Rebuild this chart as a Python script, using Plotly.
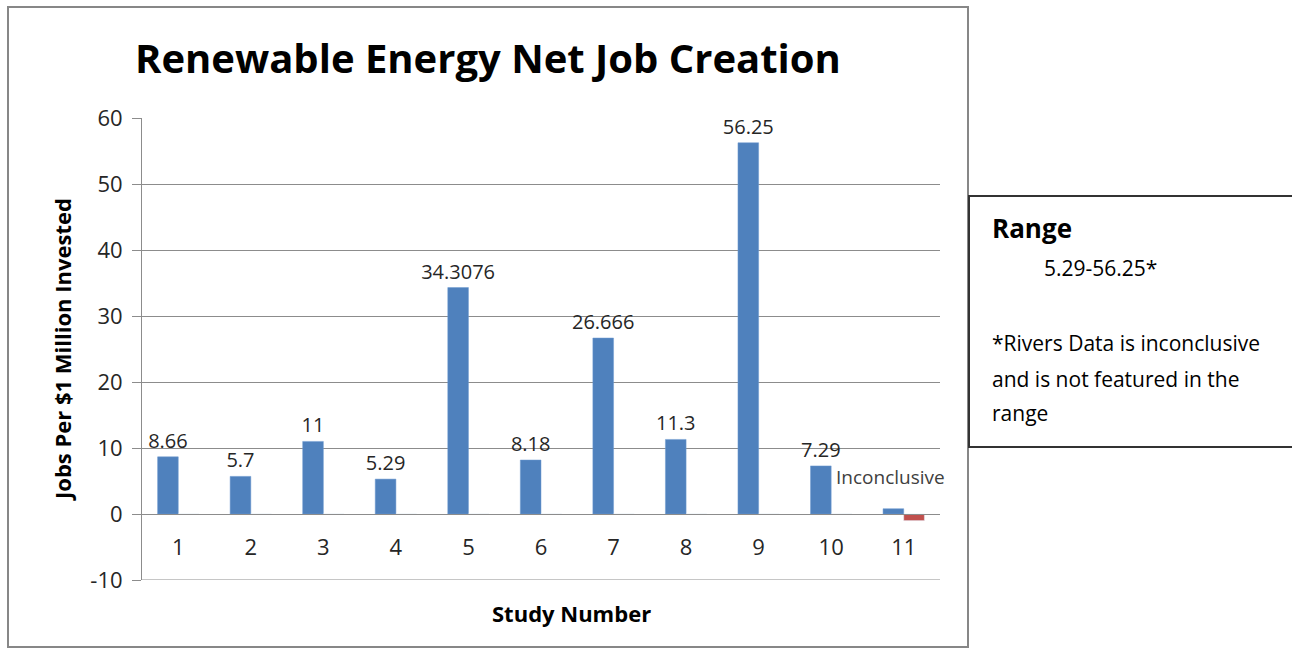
import plotly.graph_objects as go

# ---- data ----
categories = ["1", "2", "3", "4", "5", "6", "7", "8", "9", "10", "11"]
blue_values = [8.66, 5.7, 11, 5.29, 34.3076, 8.18, 26.666, 11.3, 56.25, 7.29, 0.8]
blue_labels = ["8.66", "5.7", "11", "5.29", "34.3076", "8.18", "26.666", "11.3", "56.25", "7.29", ""]
red_values = [0, 0, 0, 0, 0, 0, 0, 0, 0, 0, -1]
y_ticks = [-10, 0, 10, 20, 30, 40, 50, 60]
y_tick_labels = ["-10", "0", "10", "20", "30", "40", "50", "60"]

W, H = 1292, 648
FONT = "Open Sans"
TXT = "#262626"
GRID = "#8c8c8c"

def px_x(p):
    return p / W

def px_y(p):
    return 1 - p / H

y_bottom_px, y_top_px = 580, 118
y_min, y_max = -10, 60
zero_px = y_top_px + (y_max - 0) / (y_max - y_min) * (y_bottom_px - y_top_px)

fig = go.Figure()
fig.add_trace(go.Bar(
    x=categories, y=blue_values, marker_color="#4F81BD",
    marker_line=dict(color="#6f9bd1", width=0.5),
    text=blue_labels, textposition="outside", cliponaxis=False,
    constraintext="none",
    textfont=dict(family=FONT, size=20, color=TXT), showlegend=False,
))
fig.add_trace(go.Bar(
    x=categories, y=red_values, marker_color="#C0504D",
    showlegend=False,
))

fig.update_layout(
    width=W, height=H,
    margin=dict(l=0, r=0, t=0, b=0, autoexpand=False),
    paper_bgcolor="white", plot_bgcolor="white",
    barmode="group", bargap=0.43, bargroupgap=0,
    font=dict(family=FONT, color=TXT),
    xaxis=dict(
        type="category", domain=[px_x(142), px_x(940)],
        range=[-0.5, len(categories) - 0.5], automargin=False,
        anchor="free", position=px_y(zero_px),
        showline=True, linecolor=GRID, linewidth=1,
        showgrid=False, ticks="", tickfont=dict(size=22, color=TXT),
        ticklabelstandoff=14,
    ),
    yaxis=dict(
        domain=[px_y(y_bottom_px), px_y(y_top_px)], automargin=False,
        range=[y_min, y_max], tickvals=y_ticks, ticktext=y_tick_labels,
        showgrid=True, gridcolor=GRID, gridwidth=1,
        zeroline=False,
        showline=True, linecolor=GRID, linewidth=1,
        ticks="outside", ticklen=9, tickcolor=GRID,
        tickfont=dict(size=22, color=TXT), ticklabelstandoff=5,
    ),
)

def note(text, xp, yp, size, anchor="center", **kw):
    return dict(text=text, x=px_x(xp), y=px_y(yp), xref="paper", yref="paper",
                xanchor=anchor, yanchor="middle", showarrow=False,
                font=dict(family=FONT, size=size, color="#000000"), **kw)

annotations = [
    note("<b>Renewable Energy Net Job Creation</b>", 488, 58, 40),
    note("<b>Jobs Per $1 Million Invested</b>", 62, 350, 22, textangle=-90),
    note("<b>Study Number</b>", 571, 613, 22),
    dict(text="Inconclusive", x=len(categories) - 1, y=blue_values[-1], xref="x", yref="y",
         showarrow=False, xshift=-13, yshift=32,
         font=dict(family=FONT, size=19, color="#404040")),
    note("<b>Range</b>", 990, 228, 26, anchor="left"),
    note("5.29-56.25*", 1042, 268, 21, anchor="left"),
    note("*Rivers Data is inconclusive", 990, 343, 21, anchor="left"),
    note("and is not featured in the", 990, 379, 21, anchor="left"),
    note("range", 990, 413, 21, anchor="left"),
]
fig.update_layout(annotations=annotations)

fig.update_layout(shapes=[
    dict(type="line", xref="x domain", yref="y", x0=0, x1=1, y0=y_min, y1=y_min,
         line=dict(color=GRID, width=1)),
    dict(type="rect", xref="paper", yref="paper",
         x0=px_x(8), x1=px_x(968), y0=px_y(647), y1=px_y(7),
         line=dict(color="#878787", width=2)),
    dict(type="rect", xref="paper", yref="paper",
         x0=px_x(969), x1=px_x(1300), y0=px_y(447), y1=px_y(196),
         line=dict(color="#333333", width=2)),
])

fig.write_html("out.html")
